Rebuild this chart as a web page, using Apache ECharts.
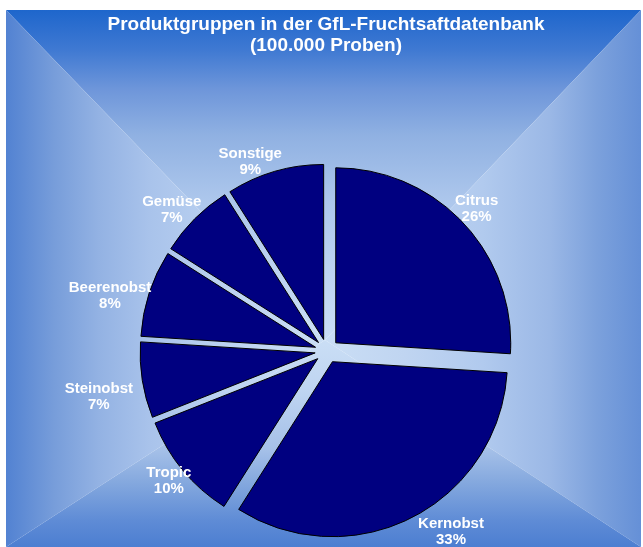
<!DOCTYPE html>
<html>
<head>
    <meta charset="utf-8">
    <title>Produktgruppen</title>
    <script src="https://cdn.jsdelivr.net/npm/echarts@6/dist/echarts.min.js"></script>
    <style>
        html, body { margin: 0; padding: 0; background: #fff; }
    </style>
</head>
<body>
<div id="main" style="width: 643px;height:547px;"></div>
<script type="text/javascript">
    // Daten
    const categories = ['Citrus', 'Kernobst', 'Tropic', 'Steinobst', 'Beerenobst', 'Gemüse', 'Sonstige'];
    const shares = [26, 33, 10, 7, 8, 7, 9];
    // Beschriftung: Abstand vom Kuchenrand und Feinverschiebung (nur Stil)
    const labelGap = [21, 31, 17, 46, 37, 24, 20];
    const labelShift = [[-2, 0], [25, -13], [-1, 0], [2, 9], [-4, 14], [-6, 8], [-19, 10]];

    const titleText = 'Produktgruppen in der GfL-Fruchtsaftdatenbank\n(100.000 Proben)';

    // Hintergrund: rechteckiger Verlauf von der Mitte aus (vier Dreiecke)
    const L = 6, T = 10, R = 641, B = 547, MX = 325, MY = 340;
    const mid = '#cadef5';
    function grad(x, y, x2, y2, stops) {
        return {
            type: 'linear', x: x, y: y, x2: x2, y2: y2,
            colorStops: stops.map(function (s) { return { offset: s[0], color: s[1] }; })
        };
    }
    const bg = [
        { pts: [[L, T], [R, T], [MX, MY]], fill: grad(0, 0, 0, 1, [[0, '#1e66cc'], [0.12, '#3f79d2'], [0.24, '#6e96da'], [0.38, '#90b1e2'], [0.58, '#adc7ec'], [0.8, '#bed4f1'], [1, mid]]) },
        { pts: [[L, T], [L, B], [MX, MY]], fill: grad(0, 0, 1, 0, [[0, '#5282d2'], [0.15, '#779dda'], [0.29, '#93b2e3'], [0.45, '#a9c3eb'], [0.7, '#bdd3f1'], [1, mid]]) },
        { pts: [[R, T], [R, B], [MX, MY]], fill: grad(1, 0, 0, 0, [[0, '#6590d7'], [0.14, '#7ca1dc'], [0.29, '#9bb8e6'], [0.5, '#b1caee'], [0.75, '#c0d5f1'], [1, mid]]) },
        { pts: [[L, B], [R, B], [MX, MY]], fill: grad(0, 1, 0, 0, [[0, '#4c7ed1'], [0.13, '#5f8cd6'], [0.31, '#84a8de'], [0.47, '#a5c0e8'], [0.75, '#bed4f1'], [1, mid]]) }
    ];

    let myChart = echarts.init(document.getElementById('main'));

    myChart.setOption({
        animation: false,
        backgroundColor: '#fff',
        graphic: bg.map(function (b) {
            return {
                type: 'polygon',
                silent: true,
                z: -10,
                shape: { points: b.pts },
                style: { fill: b.fill, stroke: null }
            };
        }),
        title: {
            text: titleText,
            left: 326,
            textAlign: 'center',
            top: 14,
            padding: 0,
            textStyle: {
                color: '#fff',
                fontSize: 19,
                fontWeight: 'bold',
                fontFamily: 'Liberation Sans, Arial, sans-serif',
                lineHeight: 21
            }
        },
        series: [{
            type: 'pie',
            center: [327, 351],
            radius: 175,
            startAngle: 90,
            clockwise: true,
            selectedMode: 'multiple',
            selectedOffset: 12,
            avoidLabelOverlap: false,
            emphasis: { scale: false },
            itemStyle: {
                color: '#000080',
                borderColor: '#000',
                borderWidth: 1
            },
            select: {
                itemStyle: { color: '#000080', borderColor: '#000', borderWidth: 1 }
            },
            label: {
                position: 'outside',
                formatter: '{b}\n{c}%',
                color: '#fff',
                fontSize: 15,
                fontWeight: 'bold',
                fontFamily: 'Liberation Sans, Arial, sans-serif',
                lineHeight: 16,
                distanceToLabelLine: 0
            },
            labelLine: { show: false, length2: 0 },
            labelLayout: function (p) {
                return { align: 'center', dx: labelShift[p.dataIndex][0], dy: labelShift[p.dataIndex][1] };
            },
            data: categories.map(function (name, i) {
                return {
                    name: name,
                    value: shares[i],
                    selected: true,
                    labelLine: { show: false, length: labelGap[i], length2: 0 }
                };
            })
        }]
    });
</script>
</body>
</html>
